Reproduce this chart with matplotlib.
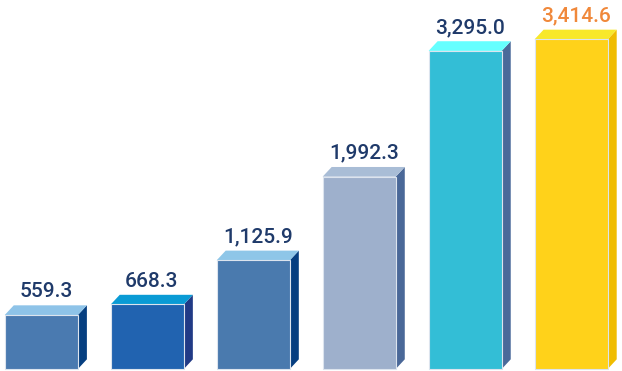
import numpy as np
import matplotlib as mpl
mpl.use('Agg')
import matplotlib.pyplot as plt
from matplotlib.patches import Polygon

values = [559.3, 668.3, 1125.9, 1992.3, 3295.0, 3414.6]
labels = ['559.3', '668.3', '1,125.9', '1,992.3', '3,295.0', '3,414.6']
front_colors = ['#4A7AB0', '#2163B0', '#4A7AAE', '#9EB0CC', '#33BED6', '#FFD21A']
top_colors = ['#8EC3E8', '#0A9BD5', '#8EC6E8', '#A9BDD6', '#66FFFF', '#F8E82A']
side_colors = ['#063F80', '#213A86', '#063E80', '#4A6898', '#4A6A9A', '#F0BC00']
label_colors = ['#1F3A6A'] * 5 + ['#F0883A']

fig = plt.figure(figsize=(6.22, 3.71), dpi=100)
ax = fig.add_axes([0, 0, 1, 1])
ax.set_xlim(-0.39, 5.48)
ax.set_ylim(-21, 3822)
ax.axis('off')

x = np.arange(len(values))
w = 0.69
dx = 0.085   # depth offset, x units
dy = 100     # depth offset, data units

# side + top faces behind the front
for i, v in enumerate(values):
    l, r = x[i] - w / 2, x[i] + w / 2
    side = Polygon([(r, 0), (r + dx, dy), (r + dx, v + dy), (r, v)],
                   closed=True, facecolor=side_colors[i], edgecolor='none')
    top = Polygon([(l, v), (r, v), (r + dx, v + dy), (l + dx, v + dy)],
                  closed=True, facecolor=top_colors[i], edgecolor='none')
    ax.add_patch(side)
    ax.add_patch(top)

ax.bar(x, values, width=w, color=front_colors, edgecolor='#dce4ee', linewidth=0.8)

for i, v in enumerate(values):
    ax.text(x[i] + dx / 2, v + dy + 85, labels[i], ha='center', va='baseline',
            fontsize=15, color=label_colors[i], family='Roboto', weight='medium')

fig.savefig('out.png', dpi=100)
